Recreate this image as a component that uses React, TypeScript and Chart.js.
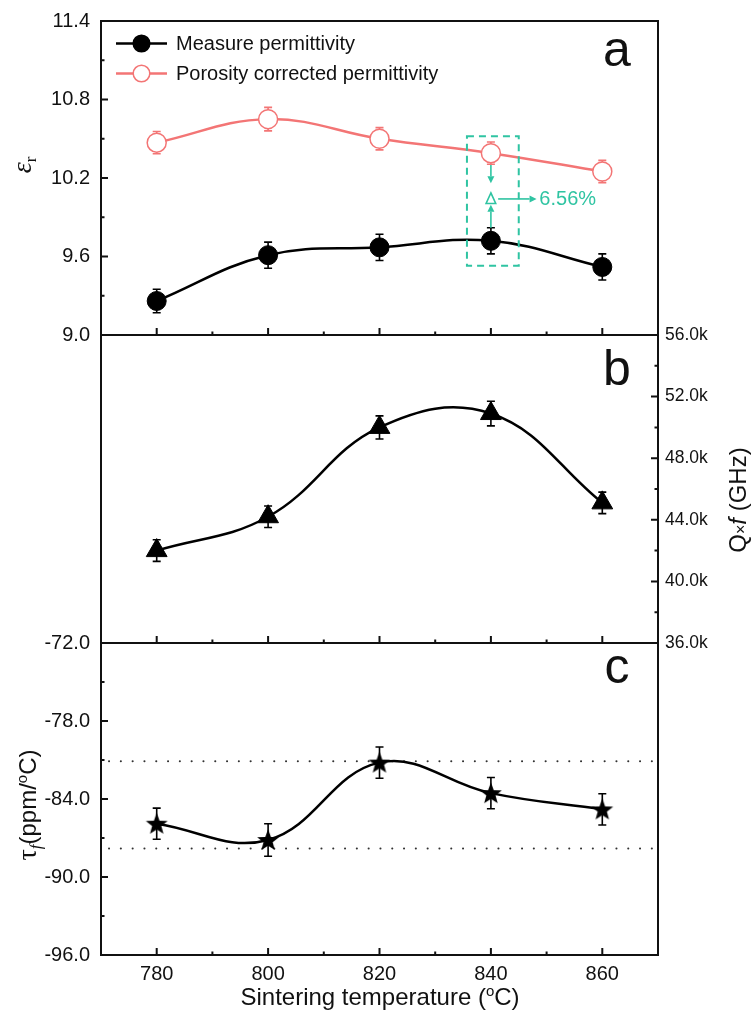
import React, { useEffect, useRef } from "react";
import { Chart, registerables } from "chart.js";

Chart.register(...registerables);

// ---------------- data ----------------
const temperatures = [780, 800, 820, 840, 860];

const measuredPermittivity = [9.26, 9.61, 9.67, 9.72, 9.52];
const measuredPermittivityErr = [0.09, 0.1, 0.1, 0.1, 0.1];
const correctedPermittivity = [10.47, 10.65, 10.5, 10.39, 10.25];
const correctedPermittivityErr = [0.085, 0.09, 0.085, 0.085, 0.085];

const qfValues = [42000, 44200, 50000, 50900, 45100];
const qfErrors = [700, 700, 750, 800, 700];

const tauValues = [-85.9, -87.15, -81.2, -83.55, -84.8];
const tauErrors = [1.2, 1.25, 1.2, 1.2, 1.2];
const tauGuideLines = [-81.1, -87.8];

const xTickValues = [780, 800, 820, 840, 860];
const xMinorTickValues = [790, 810, 830, 850];
const epsTickValues = [9.0, 9.6, 10.2, 10.8, 11.4];
const epsMinorTickValues = [9.3, 9.9, 10.5, 11.1];
const qfTickValues = [36000, 40000, 44000, 48000, 52000, 56000];
const qfMinorTickValues = [38000, 42000, 46000, 50000, 54000];
const tauTickValues = [-96, -90, -84, -78, -72];
const tauMinorTickValues = [-93, -87, -81, -75];

const legendLabels = ["Measure permittivity", "Porosity corrected permittivity"];
const panelLetters = ["a", "b", "c"];
const deltaText = "6.56%";

// annotation (data coordinates of panel a)
const annotation = {
  box: { x0: 835.7, x1: 845.0, y0: 9.53, y1: 10.52 },
  at: 840,
  deltaY: 10.04,
  downFrom: 10.3,
  downTo: 10.16,
  upFrom: 9.82,
  upTo: 9.995,
  rightFrom: 841.3,
  rightTo: 848.2,
  textX: 848.7,
};

// ---------------- styles ----------------
const SANS = '"Liberation Sans", Arial, sans-serif';
const SERIF = '"Liberation Serif", "Times New Roman", serif';
const INK = "#111";
const RED = "#f37575";
const TEAL = "#2fc4a2";
const X_MIN = 770;
const X_MAX = 870;

const points = (ys: number[]) => temperatures.map((x, i) => ({ x, y: ys[i] }));

function xScale(display: boolean) {
  return {
    type: "linear",
    min: X_MIN,
    max: X_MAX,
    display,
    afterBuildTicks: (s: any) => {
      s.ticks = xTickValues.map((v) => ({ value: v }));
    },
    afterFit: (s: any) => {
      s.height = display ? 64 : 0;
    },
    grid: { display: false, drawTicks: false },
    border: { display: false },
    ticks: {
      autoSkip: false,
      maxRotation: 0,
      color: INK,
      font: { family: SANS, size: 20 },
      padding: 7,
      callback: (v: any) => String(v),
    },
  };
}

function yScale(o: any) {
  return {
    type: "linear",
    position: o.position,
    min: o.min,
    max: o.max,
    afterBuildTicks: (s: any) => {
      s.ticks = o.ticks.map((v: number) => ({ value: v }));
    },
    afterFit: (s: any) => {
      s.width = o.width;
    },
    grid: { display: false, drawTicks: true, tickLength: o.gap - 2 },
    border: { display: false },
    ticks: {
      autoSkip: false,
      color: INK,
      font: { family: SANS, size: o.size },
      padding: 2,
      callback: o.fmt,
    },
  };
}

// ---------------- drawing helpers ----------------
function drawFrameAndTicks(chart: any, yId: string, side: string, majors: number[], minors: number[]) {
  const { ctx, chartArea: a, scales } = chart;
  const x = scales.x;
  const y = scales[yId];
  ctx.save();
  ctx.strokeStyle = INK;
  ctx.lineWidth = 2;
  ctx.strokeRect(a.left, a.top, a.right - a.left, a.bottom - a.top);
  ctx.beginPath();
  xTickValues.forEach((v) => {
    const p = x.getPixelForValue(v);
    ctx.moveTo(p, a.bottom);
    ctx.lineTo(p, a.bottom - 7);
  });
  xMinorTickValues.forEach((v) => {
    const p = x.getPixelForValue(v);
    ctx.moveTo(p, a.bottom);
    ctx.lineTo(p, a.bottom - 3.5);
  });
  const yt = (v: number, len: number) => {
    const p = y.getPixelForValue(v);
    if (side === "left") {
      ctx.moveTo(a.left, p);
      ctx.lineTo(a.left + len, p);
    } else {
      ctx.moveTo(a.right, p);
      ctx.lineTo(a.right - len, p);
    }
  };
  majors.forEach((v) => yt(v, 7));
  minors.forEach((v) => yt(v, 3.5));
  ctx.stroke();
  ctx.restore();
}

function drawErrorBars(chart: any, yId: string, values: number[], errors: number[], color: string) {
  const { ctx, scales } = chart;
  const x = scales.x;
  const y = scales[yId];
  ctx.save();
  ctx.strokeStyle = color;
  ctx.lineWidth = 1.6;
  ctx.beginPath();
  temperatures.forEach((t, i) => {
    const px = x.getPixelForValue(t);
    const top = y.getPixelForValue(values[i] + errors[i]);
    const bot = y.getPixelForValue(values[i] - errors[i]);
    ctx.moveTo(px, top);
    ctx.lineTo(px, bot);
    ctx.moveTo(px - 4, top);
    ctx.lineTo(px + 4, top);
    ctx.moveTo(px - 4, bot);
    ctx.lineTo(px + 4, bot);
  });
  ctx.stroke();
  ctx.restore();
}

function drawPanelLetter(chart: any, letter: string, baselineOffset: number) {
  const { ctx, chartArea: a } = chart;
  ctx.save();
  ctx.fillStyle = INK;
  ctx.font = `50px ${SANS}`;
  ctx.textAlign = "center";
  ctx.textBaseline = "alphabetic";
  ctx.fillText(letter, a.right - 41, a.top + baselineOffset);
  ctx.restore();
}

type Seg = { t: string; size: number; family?: string; italic?: boolean; dy?: number };

function drawRichText(ctx: any, segs: Seg[], cx: number, cy: number, rotated: boolean) {
  ctx.save();
  ctx.translate(cx, cy);
  if (rotated) ctx.rotate(-Math.PI / 2);
  const fonts = segs.map((s) => `${s.italic ? "italic " : ""}${s.size}px ${s.family || SANS}`);
  let total = 0;
  const widths = segs.map((s, i) => {
    ctx.font = fonts[i];
    const w = ctx.measureText(s.t).width;
    total += w;
    return w;
  });
  let x = -total / 2;
  ctx.textAlign = "left";
  ctx.textBaseline = "alphabetic";
  ctx.fillStyle = INK;
  segs.forEach((s, i) => {
    ctx.font = fonts[i];
    ctx.fillText(s.t, x, 8.5 + (s.dy || 0));
    x += widths[i];
  });
  ctx.restore();
}

function arrow(ctx: any, x0: number, y0: number, x1: number, y1: number) {
  const ang = Math.atan2(y1 - y0, x1 - x0);
  const head = 7;
  const hw = 3.5;
  const bx = x1 - Math.cos(ang) * head;
  const by = y1 - Math.sin(ang) * head;
  ctx.beginPath();
  ctx.moveTo(x0, y0);
  ctx.lineTo(bx, by);
  ctx.stroke();
  ctx.beginPath();
  ctx.moveTo(x1, y1);
  ctx.lineTo(bx - Math.sin(ang) * hw, by + Math.cos(ang) * hw);
  ctx.lineTo(bx + Math.sin(ang) * hw, by - Math.cos(ang) * hw);
  ctx.closePath();
  ctx.fill();
}

function makeStar(): HTMLCanvasElement {
  const c = document.createElement("canvas");
  c.width = 26;
  c.height = 26;
  const g = c.getContext("2d")!;
  const R = 11.5;
  const r = R * 0.42;
  g.beginPath();
  for (let i = 0; i < 10; i++) {
    const rad = i % 2 === 0 ? R : r;
    const ang = -Math.PI / 2 + (i * Math.PI) / 5;
    const px = 13 + Math.cos(ang) * rad;
    const py = 13.8 + Math.sin(ang) * rad;
    if (i === 0) g.moveTo(px, py);
    else g.lineTo(px, py);
  }
  g.closePath();
  g.fillStyle = "#000";
  g.fill();
  return c;
}

const baseOptions = {
  responsive: false,
  maintainAspectRatio: false,
  animation: false,
  events: [],
};

const noPlugins = { legend: { display: false }, tooltip: { enabled: false } };

export default function App() {
  const refA = useRef<HTMLCanvasElement>(null);
  const refB = useRef<HTMLCanvasElement>(null);
  const refC = useRef<HTMLCanvasElement>(null);

  useEffect(() => {
    const star = makeStar();

    // ---------- panel a ----------
    const chartA = new Chart(refA.current as any, {
      type: "line",
      data: {
        datasets: [
          {
            label: legendLabels[1],
            data: points(correctedPermittivity),
            borderColor: RED,
            borderWidth: 2.5,
            tension: 0.4,
            pointRadius: 9.5,
            pointBackgroundColor: "#fff",
            pointBorderColor: RED,
            pointBorderWidth: 1.5,
          },
          {
            label: legendLabels[0],
            data: points(measuredPermittivity),
            borderColor: "#000",
            borderWidth: 2.5,
            tension: 0.4,
            pointRadius: 9.5,
            pointBackgroundColor: "#000",
            pointBorderColor: "#000",
            pointBorderWidth: 1,
          },
        ],
      },
      options: {
        ...baseOptions,
        layout: { padding: { top: 21, bottom: 15, left: 0, right: 97 } },
        scales: {
          x: xScale(false),
          y: yScale({
            position: "left",
            min: 9.0,
            max: 11.4,
            ticks: epsTickValues,
            width: 101,
            size: 20,
            gap: 11,
            fmt: (v: any) => Number(v).toFixed(1),
          }),
        },
        plugins: noPlugins,
      } as any,
      plugins: [
        {
          id: "panelA",
          beforeDatasetsDraw(chart: any) {
            drawErrorBars(chart, "y", correctedPermittivity, correctedPermittivityErr, RED);
            drawErrorBars(chart, "y", measuredPermittivity, measuredPermittivityErr, "#000");
          },
          afterDatasetsDraw(chart: any) {
            const { ctx, scales } = chart;
            const x = scales.x;
            const y = scales.y;
            drawFrameAndTicks(chart, "y", "left", epsTickValues, epsMinorTickValues);
            drawPanelLetter(chart, panelLetters[0], 45);

            // legend
            const rows = [
              { label: legendLabels[0], color: "#000", fill: "#000" },
              { label: legendLabels[1], color: RED, fill: "#fff" },
            ];
            ctx.save();
            rows.forEach((r, i) => {
              const cy = 43.5 + i * 30;
              ctx.strokeStyle = r.color;
              ctx.lineWidth = 2.5;
              ctx.beginPath();
              ctx.moveTo(116, cy);
              ctx.lineTo(167, cy);
              ctx.stroke();
              ctx.beginPath();
              ctx.arc(141.5, cy, 8.3, 0, Math.PI * 2);
              ctx.fillStyle = r.fill;
              ctx.fill();
              ctx.lineWidth = 1.5;
              ctx.stroke();
              ctx.fillStyle = INK;
              ctx.font = `20px ${SANS}`;
              ctx.textAlign = "left";
              ctx.textBaseline = "middle";
              ctx.fillText(r.label, 176, cy + 1);
            });
            ctx.restore();

            // annotation
            ctx.save();
            ctx.strokeStyle = TEAL;
            ctx.fillStyle = TEAL;
            ctx.lineWidth = 2;
            ctx.setLineDash([7, 5]);
            const bx0 = x.getPixelForValue(annotation.box.x0);
            const bx1 = x.getPixelForValue(annotation.box.x1);
            const by0 = y.getPixelForValue(annotation.box.y1);
            const by1 = y.getPixelForValue(annotation.box.y0);
            ctx.strokeRect(bx0, by0, bx1 - bx0, by1 - by0);
            ctx.setLineDash([]);
            ctx.lineWidth = 1.6;
            const ax = x.getPixelForValue(annotation.at);
            arrow(ctx, ax, y.getPixelForValue(annotation.downFrom), ax, y.getPixelForValue(annotation.downTo));
            arrow(ctx, ax, y.getPixelForValue(annotation.upFrom), ax, y.getPixelForValue(annotation.upTo));
            const ty = y.getPixelForValue(annotation.deltaY);
            ctx.beginPath();
            ctx.moveTo(ax, ty - 6);
            ctx.lineTo(ax + 4.8, ty + 4.5);
            ctx.lineTo(ax - 4.8, ty + 4.5);
            ctx.closePath();
            ctx.stroke();
            arrow(ctx, x.getPixelForValue(annotation.rightFrom), ty, x.getPixelForValue(annotation.rightTo), ty);
            ctx.font = `20px ${SANS}`;
            ctx.textAlign = "left";
            ctx.textBaseline = "middle";
            ctx.fillText(deltaText, x.getPixelForValue(annotation.textX), ty + 1);
            ctx.restore();

            // y title
            drawRichText(
              ctx,
              [
                { t: "ε", size: 28, family: SERIF, italic: true },
                { t: "r", size: 17, family: SERIF, dy: 5 },
              ],
              22,
              165,
              true
            );
          },
        },
      ],
    } as any);

    // ---------- panel b ----------
    const chartB = new Chart(refB.current as any, {
      type: "line",
      data: {
        datasets: [
          {
            data: points(qfValues),
            yAxisID: "y",
            borderColor: "#000",
            borderWidth: 2.5,
            tension: 0.4,
            pointStyle: "triangle",
            pointRadius: 12,
            pointBackgroundColor: "#000",
            pointBorderColor: "#000",
            pointBorderWidth: 1,
          },
        ],
      },
      options: {
        ...baseOptions,
        layout: { padding: { top: 20, bottom: 17, left: 101, right: 0 } },
        scales: {
          x: xScale(false),
          y: yScale({
            position: "right",
            min: 36000,
            max: 56000,
            ticks: qfTickValues,
            width: 97,
            size: 17.5,
            gap: 7,
            fmt: (v: any) => (Number(v) / 1000).toFixed(1) + "k",
          }),
        },
        plugins: noPlugins,
      } as any,
      plugins: [
        {
          id: "panelB",
          beforeDatasetsDraw(chart: any) {
            drawErrorBars(chart, "y", qfValues, qfErrors, "#000");
          },
          afterDatasetsDraw(chart: any) {
            drawFrameAndTicks(chart, "y", "right", qfTickValues, qfMinorTickValues);
            drawPanelLetter(chart, panelLetters[1], 50);
            drawRichText(
              chart.ctx,
              [
                { t: "Q", size: 24 },
                { t: "×", size: 16 },
                { t: "f", size: 24, italic: true },
                { t: " (GHz)", size: 24 },
              ],
              737,
              185,
              true
            );
          },
        },
      ],
    } as any);

    // ---------- panel c ----------
    const chartC = new Chart(refC.current as any, {
      type: "line",
      data: {
        datasets: [
          {
            data: points(tauValues),
            borderColor: "#000",
            borderWidth: 2.5,
            tension: 0.4,
            pointStyle: star,
            pointRadius: 11,
          },
        ],
      },
      options: {
        ...baseOptions,
        layout: { padding: { top: 18, bottom: 0, left: 0, right: 97 } },
        scales: {
          x: xScale(true),
          y: yScale({
            position: "left",
            min: -96,
            max: -72,
            ticks: tauTickValues,
            width: 101,
            size: 20,
            gap: 11,
            fmt: (v: any) => Number(v).toFixed(1),
          }),
        },
        plugins: noPlugins,
      } as any,
      plugins: [
        {
          id: "panelC",
          beforeDatasetsDraw(chart: any) {
            const { ctx, chartArea: a, scales } = chart;
            ctx.save();
            ctx.strokeStyle = "#333";
            ctx.lineWidth = 2;
            ctx.lineCap = "round";
            ctx.setLineDash([0.1, 11.7]);
            ctx.lineDashOffset = -8;
            tauGuideLines.forEach((v) => {
              const p = scales.y.getPixelForValue(v);
              ctx.beginPath();
              ctx.moveTo(a.left, p);
              ctx.lineTo(a.right - 4, p);
              ctx.stroke();
            });
            ctx.restore();
            drawErrorBars(chart, "y", tauValues, tauErrors, "#000");
          },
          afterDatasetsDraw(chart: any) {
            const { ctx } = chart;
            drawFrameAndTicks(chart, "y", "left", tauTickValues, tauMinorTickValues);
            drawPanelLetter(chart, panelLetters[2], 40);
            drawRichText(
              ctx,
              [
                { t: "τ", size: 28, family: SERIF },
                { t: "f", size: 17, family: SERIF, italic: true, dy: 5 },
                { t: "(ppm/", size: 24 },
                { t: "o", size: 15, dy: -9 },
                { t: "C)", size: 24 },
              ],
              27,
              180,
              true
            );
            drawRichText(
              ctx,
              [
                { t: "Sintering temperature (", size: 24 },
                { t: "o", size: 15, dy: -9 },
                { t: "C)", size: 24 },
              ],
              380,
              371,
              false
            );
          },
        },
      ],
    } as any);

    return () => {
      chartA.destroy();
      chartB.destroy();
      chartC.destroy();
    };
  }, []);

  const canvasStyle = (top: number, h: number): React.CSSProperties => ({
    position: "absolute",
    left: 0,
    top,
    width: 755,
    height: h,
  });

  return (
    <div style={{ position: "absolute", left: 0, top: 0, width: 755, height: 1019, background: "#fff" }}>
      <canvas ref={refA} width={755} height={350} style={canvasStyle(0, 350)} />
      <canvas ref={refB} width={755} height={345} style={canvasStyle(315, 345)} />
      <canvas ref={refC} width={755} height={394} style={canvasStyle(625, 394)} />
    </div>
  );
}
